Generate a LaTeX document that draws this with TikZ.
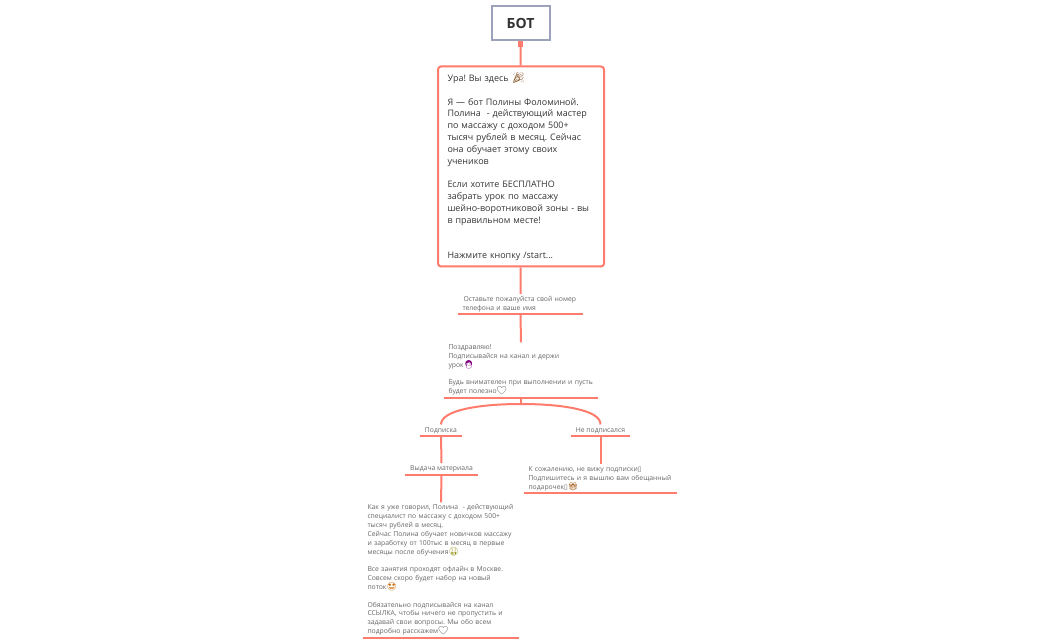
\documentclass[tikz,border=0pt]{standalone}
\usepackage{fontspec}
\setmainfont{Open Sans}
\newfontfamily\emojifont[Scale=1.2]{Noto Emoji}
\newfontfamily\boxfont{DejaVu Sans}
\usetikzlibrary{positioning}
\frenchspacing
\definecolor{salmon}{HTML}{FF7B6B}
\definecolor{slate}{HTML}{9CA2BA}
\definecolor{inkdark}{HTML}{333333}
\definecolor{inkgray}{HTML}{666666}
\newcommand{\emo}[2][inkdark]{{\emojifont\textcolor{#1}{#2}}}
\newcommand{\tofu}{{\boxfont\symbol{"25AF}}}
\tikzset{
  root/.style={draw=slate,line width=2pt,fill=white,minimum width=58pt,minimum height=34pt,inner sep=0pt,font=\fontsize{14}{16}\selectfont\bfseries,text=inkdark},
  card/.style={draw=salmon,line width=2pt,fill=white,rounded corners=3pt,minimum height=200pt,inner xsep=9.5pt,inner ysep=0pt,text width=147pt,align=left,font=\fontsize{8.95}{11.8}\selectfont,text=inkdark},
  leaf/.style={anchor=south,inner xsep=4.5pt,inner ysep=2pt,align=left,font=\fontsize{6.8}{8.85}\selectfont,text=inkgray},
  tag/.style={anchor=south,inner xsep=0pt,inner ysep=2.5pt,align=center,font=\fontsize{6.8}{8.85}\selectfont,text=inkgray},
  link/.style={draw=salmon,line width=2pt},
  stub/.style={fill=salmon,inner sep=0pt,minimum width=5pt,minimum height=6pt}}
\begin{document}
\begin{tikzpicture}[x=1pt,y=-1pt]
	\useasboundingbox (0,0) rectangle (1041,644);
	\node [root] (bot) at (520.5,23.5) {БОТ};
	\node [card] (hello) at (521,166.5) {Ура! Вы здесь \emo[orange!45!black]{🎉}\\[11.8pt]
Я — бот Полины Фоломиной.\\
Полина\ \ - действующий мастер\\
по массажу с доходом 500+\\
тысяч рублей в месяц. Сейчас\\
она обучает этому своих\\
учеников\\[11.8pt]
Если хотите БЕСПЛАТНО\\
забрать урок по массажу\\
шейно-воротниковой зоны - вы\\
в правильном месте!\\[23.6pt]
Нажмите кнопку /start...};
	\node [stub] (tip) at (520.5,44) {};
	\node [leaf,text width=116pt] (phone) at (520.5,314) {\hspace*{1pt}Оставьте пожалуйста свой номер\\
телефона и ваше имя};
	\node [leaf,text width=145pt] (gift) at (521,397.5) {Поздравляю!\\
Подписывайся на канал и держи\\
урок\emo[violet]{👩}\\[8.85pt]
Будь внимателен при выполнении и пусть\\
будет полезно\emo{🤍}};
	\node [tag,minimum width=42pt] (yes) at (441,436) {Подписка};
	\node [tag,minimum width=59pt] (no) at (600.5,436) {Не подписался};
	\node [tag,minimum width=73pt] (material) at (441.5,475) {Выдача материала};
	\node [leaf,text width=144pt] (sorry) at (600.5,493) {К сожалению, не вижу подписки\tofu\\
Подпишитесь и я вышлю вам обещанный\\
подарочек\tofu\emo[orange!60!black]{🎁}};
	\node [leaf,text width=147pt] (info) at (441,637.5) {Как я уже говорил, Полина\ \ - действующий\\
специалист по массажу с доходом 500+\\
тысяч рублей в месяц.\\
Сейчас Полина обучает новичков массажу\\
и заработку от 100тыс в месяц в первые\\
месяцы после обучения\emo[olive]{🤑}\\[8.85pt]
Все занятия проходят офлайн в Москве.\\
Совсем скоро будет набор на новый\\
поток\emo[orange!80!black]{🤩}\\[8.85pt]
Обязательно подписывайся на канал\\
ССЫЛКА, чтобы ничего не пропустить и\\
задавай свои вопросы. Мы обо всем\\
подробно расскажем\emo{🤍}};
	\coordinate (fork) at (521,404);
	%links
	\draw [link] (bot) -- (hello);
	\draw [link] (hello) -- (phone);
	\draw [link] (phone.south) -- (gift.north);
	\draw [link] (gift.south) -- (fork);
	\draw [link] (yes.north) .. controls (441,410) and (480,404) .. (fork);
	\draw [link] (no.north) .. controls (601,410) and (562,404) .. (fork);
	\draw [link] (yes.south) -- (material.north);
	\draw [link] (no.south) -- (sorry.north);
	\draw [link] (material.south) -- (info.north);
	%rules under the texts
	\foreach \n in {phone,gift,yes,no,material,sorry,info}
		\draw [link] (\n.south west) -- (\n.south east);
\end{tikzpicture}
\end{document}
